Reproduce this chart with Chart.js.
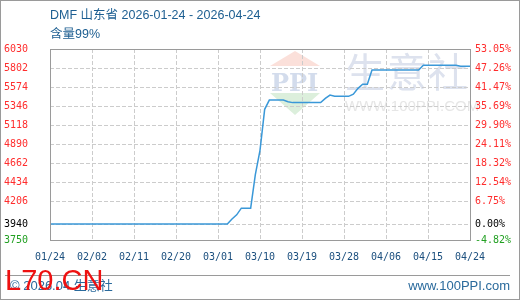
<!DOCTYPE html>
<html>
<head>
<meta charset="utf-8">
<script src="https://cdn.jsdelivr.net/npm/chart.js@4"></script>
<style>
  html, body { margin: 0; padding: 0; background: #fff; }
  #wrap { width: 520px; height: 300px; position: relative; }
</style>
</head>
<body>
<div id="wrap"><canvas id="priceChart" width="520" height="300"></canvas></div>
<script>
// Daily price, 01/24 .. 04/24 (91 days)
const prices = [
  3940, 3940, 3940, 3940, 3940, 3940, 3940, 3940, 3940, 3940,
  3940, 3940, 3940, 3940, 3940, 3940, 3940, 3940, 3940, 3940,
  3940, 3940, 3940, 3940, 3940, 3940, 3940, 3940, 3940, 3940,
  3940, 3940, 3940, 3940, 3940, 3940, 3940, 3940, 3940, 4000,
  4050, 4130, 4130, 4130, 4530, 4820, 5310, 5420, 5420, 5420,
  5420, 5400, 5390, 5390, 5390, 5390, 5390, 5390, 5390, 5440,
  5480, 5465, 5465, 5465, 5465, 5490, 5560, 5610, 5610, 5780,
  5780, 5780, 5780, 5780, 5780, 5780, 5780, 5780, 5780, 5780,
  5835, 5835, 5835, 5835, 5835, 5835, 5835, 5835, 5825, 5825,
  5825
];
const xTickLabels = ["01/24", "02/02", "02/11", "02/20", "03/01", "03/10", "03/19", "03/28", "04/06", "04/15", "04/24"];
const yTicks = [3750, 3940, 4206, 4434, 4662, 4890, 5118, 5346, 5574, 5802, 6030];
const basePrice = 3940;
const titleText = "DMF 山东省 2026-01-24 - 2026-04-24";
const subTitleText = "含量99%";

const tickColor = (ctx) => {
  if (ctx.tick.value === basePrice) return "#000000";
  if (ctx.tick.value === yTicks[0]) return "#22a022";
  return "#ff2d2d";
};

// texts, frame and watermark drawn on the canvas
const decorations = {
  id: "decorations",
  beforeDraw(chart) {
    const c = chart.ctx;
    c.save();
    // watermark logo
    c.fillStyle = "#fbe0da";
    c.beginPath(); c.moveTo(295, 51); c.lineTo(320, 66); c.lineTo(270, 66); c.closePath(); c.fill();
    c.fillStyle = "#dcefdc";
    c.beginPath(); c.moveTo(270, 93); c.lineTo(320, 93); c.lineTo(295, 115); c.closePath(); c.fill();
    c.fillStyle = "#d3dcec";
    c.font = "bold 24px 'DejaVu Serif'";
    c.textBaseline = "alphabetic";
    c.fillText("PPI", 271, 91);
    c.font = "40px 'Noto Sans CJK SC'";
    c.fillStyle = "#dde2ee";
    c.fillText("生", 345, 87);
    c.fillText("意", 387, 87);
    c.fillText("社", 428, 87);
    c.font = "15px 'Liberation Sans'";
    c.fillStyle = "#e6e6e6";
    c.fillText("WWW.100PPI.COM", 345, 111);
    c.restore();
  },
  afterDraw(chart) {
    const c = chart.ctx;
    const a = chart.chartArea;
    c.save();
    c.strokeStyle = "#9a9a9a";
    c.lineWidth = 1;
    c.strokeRect(0.5, 0.5, 519, 299);
    c.strokeRect(a.left + 0.5, a.top + 0.5, a.right - a.left, a.bottom - a.top);
    c.beginPath(); c.moveTo(5, 275.5); c.lineTo(510, 275.5); c.stroke();

    c.fillStyle = "#1c5e91";
    c.font = "12.5px 'Liberation Sans', 'Noto Sans CJK SC'";
    c.textBaseline = "alphabetic";
    c.fillText(titleText, 50, 19);
    c.fillText(subTitleText, 50, 38);

    c.fillStyle = "#2a6a9c";
    c.font = "13px 'Liberation Sans', 'Noto Sans CJK SC'";
    c.fillText("© 2026.04 生意社", 10, 290);
    c.textAlign = "right";
    c.fillText("www.100PPI.com", 510, 290);

    c.textAlign = "left";
    c.fillStyle = "#ee1111";
    c.font = "29px 'Liberation Sans'";
    c.fillText("L70.CN", 5, 290);
    c.restore();
  }
};

const ctx = document.getElementById("priceChart").getContext("2d");
new Chart(ctx, {
  type: "line",
  data: {
    datasets: [{
      data: prices.map((p, i) => ({ x: i, y: p })),
      borderColor: "#3a98d8",
      borderWidth: 1.5,
      pointRadius: 0,
      tension: 0,
      yAxisID: "y"
    }]
  },
  options: {
    responsive: false,
    animation: false,
    layout: { padding: { top: 49, bottom: 30, left: 0, right: 0 } },
    plugins: { legend: { display: false }, tooltip: { enabled: false } },
    scales: {
      x: {
        type: "linear",
        min: 0,
        max: prices.length - 1,
        afterBuildTicks: (scale) => { scale.ticks = xTickLabels.map((_, i) => ({ value: i * 9 })); },
        afterFit: (scale) => { scale.height = 30; },
        ticks: {
          autoSkip: false, maxRotation: 0, minRotation: 0, padding: 11,
          color: "#1b4f7e",
          font: { family: "DejaVu Sans Mono", size: 10 },
          callback: (v, i) => xTickLabels[i]
        },
        grid: { color: "#cccccc", drawTicks: false },
        border: { display: false, dash: [4, 2] }
      },
      y: {
        position: "left",
        min: yTicks[0],
        max: yTicks[yTicks.length - 1],
        afterBuildTicks: (scale) => { scale.ticks = yTicks.map((v) => ({ value: v })); },
        afterFit: (scale) => { scale.width = 50; },
        ticks: {
          padding: 22, color: tickColor,
          font: { family: "DejaVu Sans Mono", size: 10 },
          callback: (v) => String(v)
        },
        grid: { color: "#cccccc", drawTicks: false },
        border: { display: false, dash: [4, 2] }
      },
      y2: {
        position: "right",
        min: yTicks[0],
        max: yTicks[yTicks.length - 1],
        afterBuildTicks: (scale) => { scale.ticks = yTicks.map((v) => ({ value: v })); },
        afterFit: (scale) => { scale.width = 50; },
        ticks: {
          padding: 5, color: tickColor,
          font: { family: "DejaVu Sans Mono", size: 10 },
          callback: (v) => ((v / basePrice - 1) * 100).toFixed(2) + "%"
        },
        grid: { display: false, drawTicks: false },
        border: { display: false }
      }
    }
  },
  plugins: [decorations]
});
</script>
</body>
</html>
